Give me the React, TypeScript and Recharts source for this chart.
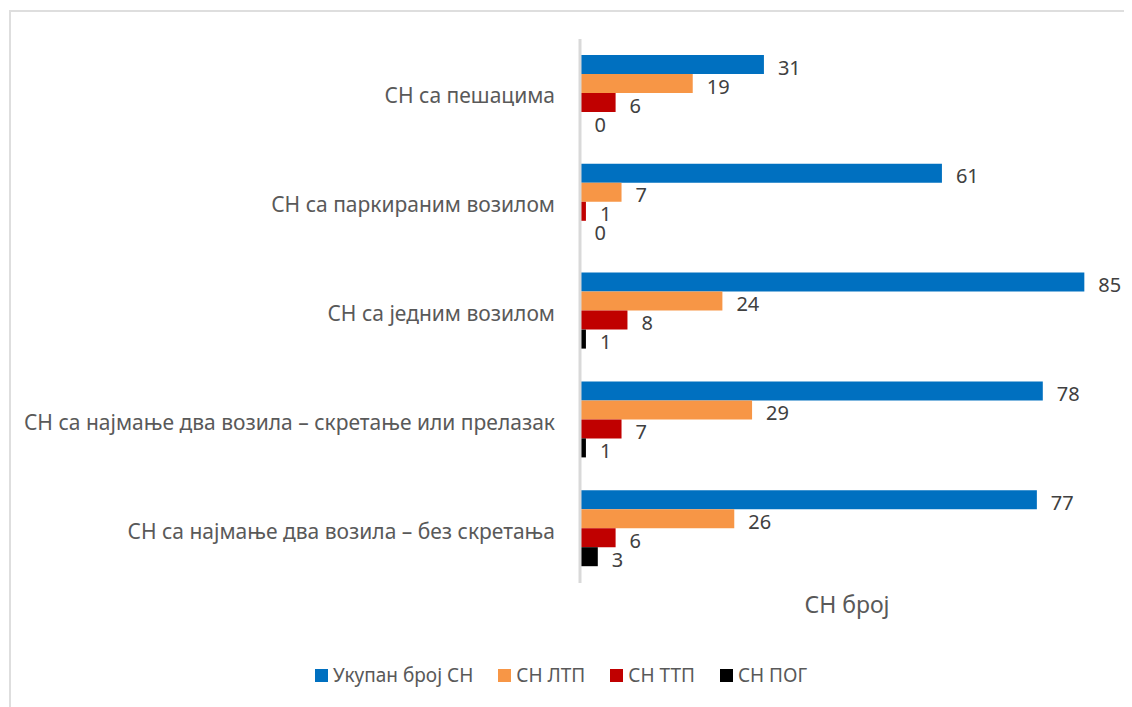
import React from "react";
import {
  BarChart,
  Bar,
  XAxis,
  YAxis,
  LabelList,
  Legend,
} from "recharts";

const categories = [
  "СН са пешацима",
  "СН са паркираним возилом",
  "СН са једним возилом",
  "СН са најмање два возила – скретање или прелазак",
  "СН са најмање два возила – без скретања",
];

const totalValues = [31, 61, 85, 78, 77];
const ltpValues = [19, 7, 24, 29, 26];
const ttpValues = [6, 1, 8, 7, 6];
const pogValues = [0, 0, 1, 1, 3];

const seriesNames = ["Укупан број СН", "СН ЛТП", "СН ТТП", "СН ПОГ"];
const seriesKeys = ["total", "ltp", "ttp", "pog"];
const seriesColors = ["#0070C0", "#F79646", "#C00000", "#000000"];

const data = categories.map((c, i) => ({
  name: c,
  total: totalValues[i],
  ltp: ltpValues[i],
  ttp: ttpValues[i],
  pog: pogValues[i],
}));

const FONT = "'Noto Sans', sans-serif";

const CategoryTick = (props: any) => {
  const { x, y, payload } = props;
  return (
    <text
      x={x}
      y={y + 2}
      textAnchor="end"
      dominantBaseline="central"
      fill="#595959"
      fontSize={21}
      fontFamily={FONT}
    >
      {payload.value}
    </text>
  );
};

const LegendContent = () => (
  <div
    style={{
      display: "flex",
      alignItems: "center",
      paddingLeft: 304,
      fontFamily: FONT,
      fontSize: 19,
      color: "#595959",
    }}
  >
    {seriesNames.map((n, i) => (
      <div key={n} style={{ display: "flex", alignItems: "center", marginRight: 25 }}>
        <span
          style={{
            display: "inline-block",
            width: 13,
            height: 13,
            background: seriesColors[i],
            marginRight: 5,
          }}
        />
        <span>{n}</span>
      </div>
    ))}
  </div>
);

export default function App() {
  return (
    <div
      style={{
        marginLeft: 1,
        marginTop: 2,
        width: 1121,
        height: 695,
        borderLeft: "2px solid #dedede",
        borderTop: "2px solid #dedede",
        background: "#fff",
      }}
    >
      <BarChart
        width={1121}
        height={695}
        data={data}
        layout="vertical"
        margin={{ top: 27, right: 18, bottom: 74, left: 0 }}
        barCategoryGap={16}
        barGap={0}
      >
        <YAxis
          type="category"
          dataKey="name"
          width={569}
          tickLine={false}
          axisLine={{ stroke: "#d9d9d9", strokeWidth: 3 }}
          tickMargin={19}
          tick={<CategoryTick />}
          interval={0}
        />
        <XAxis
          type="number"
          domain={[0, 90]}
          height={50}
          tick={false}
          tickLine={false}
          axisLine={false}
          label={{
            value: "СН број",
            position: "insideTop",
            offset: 14,
            fill: "#595959",
            fontSize: 23,
            fontFamily: FONT,
          }}
        />
        <Legend
          layout="horizontal"
          verticalAlign="middle"
          align="center"
          wrapperStyle={{ top: 650, left: 0, width: 1121 }}
          content={<LegendContent />}
        />
        {seriesKeys.map((k, i) => (
          <Bar
            key={k}
            dataKey={k}
            name={seriesNames[i]}
            fill={seriesColors[i]}
            minPointSize={(v: number) => (v === 0 ? 0.5 : 0)}
            isAnimationActive={false}
          >
            <LabelList
              dataKey={k}
              position="right"
              offset={14}
              dy={3}
              fill="#404040"
              fontSize={20}
              fontFamily={FONT}
            />
          </Bar>
        ))}
      </BarChart>
    </div>
  );
}
